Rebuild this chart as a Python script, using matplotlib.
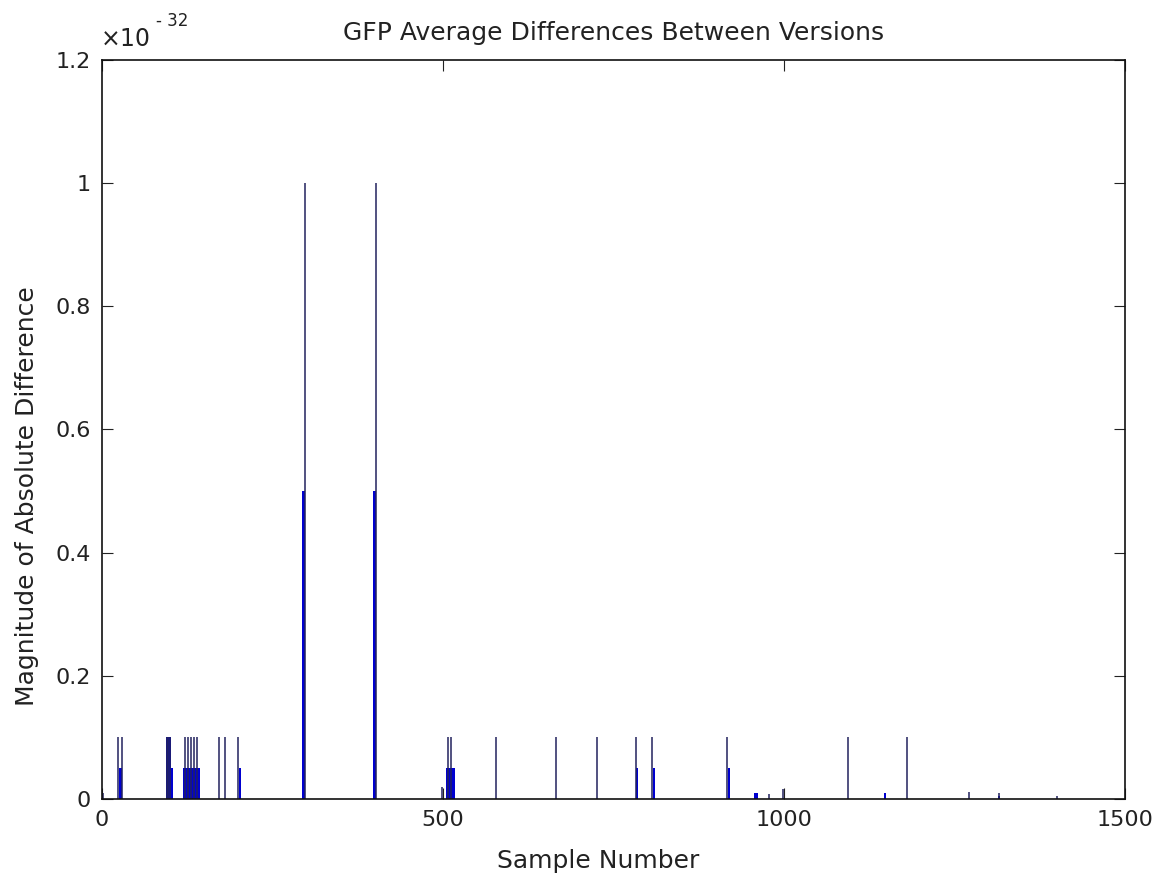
import numpy as np
import matplotlib
matplotlib.use("Agg")
import matplotlib.pyplot as plt
from matplotlib.ticker import FuncFormatter

# Data (values in units of 1e-32)
n_samples = 1500

# isolated spikes: sample index, value
spike_samples = [2, 24, 29, 95, 97, 99, 121, 126, 130, 135, 139, 172, 180, 200,
                 298, 402, 499, 508, 512, 578, 665, 726, 783, 807, 917,
                 978, 998, 1094, 1181, 1271, 1316, 1400]
spike_values = [0.01, 0.1, 0.1, 0.1, 0.1, 0.1, 0.1, 0.1, 0.1, 0.1, 0.1, 0.1, 0.1, 0.1,
                1.0, 1.0, 0.02, 0.1, 0.1, 0.1, 0.1, 0.1, 0.1, 0.1, 0.1,
                0.008, 0.016, 0.1, 0.1, 0.011, 0.01, 0.005]

# runs of samples with a constant value: start, stop, value
run_start = [25, 95, 101, 119, 201, 294, 398, 505, 784, 808, 918, 957, 1147, 1315]
run_stop = [28, 100, 103, 143, 203, 297, 401, 517, 786, 810, 920, 961, 1149, 1316]
run_value = [0.05, 0.1, 0.05, 0.05, 0.05, 0.5, 0.5, 0.05, 0.05, 0.05, 0.05, 0.01, 0.01, 0.005]

y = np.zeros(n_samples)
for s, e, v in zip(run_start, run_stop, run_value):
    y[s:e + 1] = np.maximum(y[s:e + 1], v)
x = np.arange(n_samples)
scale = 1e-32

plt.rcParams['font.family'] = ['DejaVu Sans']

fig = plt.figure(figsize=(11.65, 8.86), dpi=100)
ax = fig.add_axes([0.0876, 0.0982, 0.878, 0.8346])

# filled runs, then the single spikes as thin dark lines
ax.bar(x, y * scale, width=1.2, color='#0000d0', linewidth=0)
ax.vlines(spike_samples, 0, np.array(spike_values) * scale, color='#22225e', linewidth=1.1)

ax.set_xlim(0, 1500)
ax.set_ylim(0, 1.2e-32)
ax.set_xticks([0, 500, 1000, 1500])
ax.set_yticks(np.arange(0, 1.21, 0.2) * scale)
ax.yaxis.set_major_formatter(FuncFormatter(lambda v, p: "%g" % round(v / scale, 3)))

ax.tick_params(direction='in', top=True, right=True, length=8, width=0.8,
               labelsize=16, colors='#222222', pad=8)
for sp in ax.spines.values():
    sp.set_linewidth(1.2)
    sp.set_color('#111111')

fig.text(0.086, 0.943, r"$\times$10", fontsize=17, color='#222222', ha='left', va='bottom')
fig.text(0.134, 0.966, "- 32", fontsize=12, color='#222222', ha='left', va='bottom')

ax.set_title("GFP Average Differences Between Versions", fontsize=18, color='#222222', pad=14)
ax.set_xlabel("Sample Number", fontsize=18, color='#222222')
ax.set_ylabel("Magnitude of Absolute Difference", fontsize=18, color='#222222')
ax.xaxis.set_label_coords(0.485, -0.068)
ax.yaxis.set_label_coords(-0.062, 0.41)

fig.savefig("out.png", dpi=100)
